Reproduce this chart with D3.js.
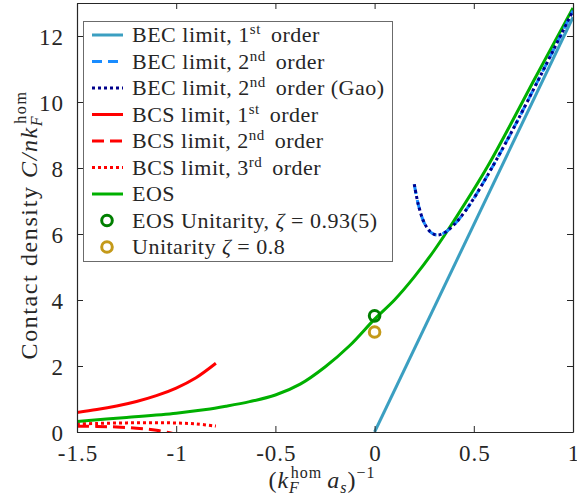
<!DOCTYPE html>
<html>
<head>
<meta charset="utf-8">
<script src="https://cdn.jsdelivr.net/npm/d3@7"></script>
<style>
  body { margin: 0; background: #fff; }
</style>
</head>
<body>
<div class="contact-chart"></div>
<script>
// values
const becX1 = [0, 1];
const bec1 = [0, 12.57];

const becX2 = [0.2, 0.22, 0.25, 0.28, 0.3, 0.32, 0.35, 0.4, 0.45, 0.5, 0.6, 0.7, 0.8, 0.9, 1.0];
const bec2 = [7.51, 6.9, 6.34, 6.07, 5.99, 5.97, 6.03, 6.28, 6.64, 7.08, 8.1, 9.2, 10.37, 11.56, 12.77];
const becGao = [7.51, 6.9, 6.34, 6.07, 5.99, 5.97, 6.03, 6.28, 6.64, 7.08, 8.1, 9.2, 10.37, 11.56, 12.77];

const bcsX = [-1.5, -1.4, -1.3, -1.2, -1.1, -1.0, -0.9, -0.8];
const bcs1 = [0.593, 0.68, 0.789, 0.926, 1.102, 1.333, 1.646, 2.083];
const bcs2 = [0.178, 0.17, 0.152, 0.116, 0.05, -0.067, null, null];
const bcs3 = [0.245, 0.259, 0.271, 0.28, 0.282, 0.273, 0.244, 0.179];

const eosX = [-1.5, -1.25, -1.0, -0.85, -0.75, -0.63, -0.5, -0.375, -0.25, -0.125, 0, 0.1, 0.2, 0.3, 0.4, 0.57, 0.82, 1.0];
const eos = [0.32, 0.44, 0.57, 0.68, 0.78, 0.92, 1.12, 1.45, 1.97, 2.62, 3.42, 4.0, 4.7, 5.5, 6.4, 8.05, 10.85, 12.85];

const unitX = [0, 0];
const unitY = [3.52, 3.03];

const xTicks = [-1.5, -1, -0.5, 0, 0.5, 1];
const yTicks = [0, 2, 4, 6, 8, 10, 12];

const FONT = '"Liberation Serif", serif';
const INK = "#262626";

const outerWidth = 577, outerHeight = 502;
const margin = {left: 77, right: 4, top: 3, bottom: 70};

const svg = d3.select(".contact-chart").append("svg")
  .attr("width", outerWidth)
  .attr("height", outerHeight);

const xScale = d3.scaleLinear().domain([-1.5, 1]).range([margin.left, outerWidth - margin.right]);
const yScale = d3.scaleLinear().domain([0, 13]).range([outerHeight - margin.bottom, margin.top]);

svg.append("clipPath").attr("id", "plot-clip")
  .append("rect")
  .attr("x", margin.left).attr("y", margin.top)
  .attr("width", xScale.range()[1] - margin.left)
  .attr("height", yScale.range()[0] - margin.top);

const plot = svg.append("g").attr("clip-path", "url(#plot-clip)");

const series = [
  {x: becX1, y: bec1, color: "#3b9fc1", dash: null, name: [["BEC limit, 1"], ["st", "sup"], [" order"]]},
  {x: becX2, y: bec2, color: "#1a8cff", dash: "10 6", name: [["BEC limit, 2"], ["nd", "sup"], [" order"]]},
  {x: becX2, y: becGao, color: "#00008b", dash: "3 3", name: [["BEC limit, 2"], ["nd", "sup"], [" order (Gao)"]]},
  {x: bcsX, y: bcs1, color: "#ff0000", dash: null, name: [["BCS limit, 1"], ["st", "sup"], [" order"]]},
  {x: bcsX, y: bcs2, color: "#ff0000", dash: "12 6", name: [["BCS limit, 2"], ["nd", "sup"], [" order"]]},
  {x: bcsX, y: bcs3, color: "#ff0000", dash: "3 3", name: [["BCS limit, 3"], ["rd", "sup"], [" order"]]},
  {x: eosX, y: eos, color: "#00b000", dash: null, name: [["EOS"]]}
];

const line = d3.line()
  .defined(d => d[1] != null)
  .x(d => xScale(d[0]))
  .y(d => yScale(d[1]))
  .curve(d3.curveCatmullRom);

// draw order: red first, then green, then blue ones
[3, 4, 5, 6, 0, 1, 2].forEach(i => {
  const s = series[i];
  plot.append("path")
    .datum(s.x.map((v, j) => [v, s.y[j]]))
    .attr("d", line)
    .attr("fill", "none")
    .attr("stroke", s.color)
    .attr("stroke-width", 3)
    .attr("stroke-dasharray", s.dash);
});

const markers = [
  {color: "#007f00", name: [["EOS Unitarity, "], ["ζ", "it"], [" = 0.93(5)"]]},
  {color: "#c49a1a", name: [["Unitarity "], ["ζ", "it"], [" = 0.8"]]}
];

plot.selectAll("circle.unit")
  .data(unitX)
  .enter()
  .append("circle")
  .attr("class", "unit")
  .attr("cx", d => xScale(d))
  .attr("cy", (d, i) => yScale(unitY[i]))
  .attr("r", 5.3)
  .attr("fill", "none")
  .attr("stroke", (d, i) => markers[i].color)
  .attr("stroke-width", 3);

// axes box
const x0 = xScale.range()[0], x1 = xScale.range()[1];
const y0 = yScale.range()[0], y1 = yScale.range()[1];

const xAxis = d3.axisBottom(xScale).tickValues(xTicks).tickSizeInner(-6).tickSizeOuter(0)
  .tickPadding(12).tickFormat(d => String(d));
const yAxis = d3.axisLeft(yScale).tickValues(yTicks).tickSizeInner(-6).tickSizeOuter(0)
  .tickPadding(13);

const gx = svg.append("g").attr("transform", `translate(0, ${y0})`).call(xAxis);
const gy = svg.append("g").attr("transform", `translate(${x0}, 0)`).call(yAxis);
const gxt = svg.append("g").attr("transform", `translate(0, ${y1})`)
  .call(d3.axisTop(xScale).tickValues(xTicks).tickSizeInner(-6).tickSizeOuter(0).tickFormat(""));
const gyr = svg.append("g").attr("transform", `translate(${x1}, 0)`)
  .call(d3.axisRight(yScale).tickValues(yTicks).tickSizeInner(-6).tickSizeOuter(0).tickFormat(""));

[gx, gy, gxt, gyr].forEach(g => {
  g.attr("font-family", FONT).attr("font-size", 23);
  g.select(".domain").attr("stroke", INK).attr("stroke-width", 1.2);
  g.selectAll(".tick line").attr("stroke", INK).attr("stroke-width", 1);
  g.selectAll(".tick text")
    .style("font-family", FONT)
    .style("font-size", "23px")
    .style("letter-spacing", "1px")
    .attr("fill", INK);
});
gx.selectAll(".tick text").attr("dy", "0.75em").attr("dx", "0.5px");
gy.selectAll(".tick text").attr("dy", "0.35em");

// axis labels
const xl = svg.append("text")
  .attr("x", 322).attr("y", 488)
  .attr("text-anchor", "middle")
  .attr("fill", INK)
  .style("font-family", FONT)
  .style("font-size", "24px")
  .style("letter-spacing", "1px");
xl.append("tspan").text("(");
xl.append("tspan").style("font-style", "italic").text("k");
xl.append("tspan").style("font-style", "italic").style("font-size", "16px").attr("dy", 5).text("F");
xl.append("tspan").style("font-size", "16px").attr("dx", -9).attr("dy", -15).text("hom");
xl.append("tspan").attr("dx", 5).attr("dy", 10).style("font-style", "italic").text("a");
xl.append("tspan").style("font-style", "italic").style("font-size", "16px").attr("dy", 5).text("s");
xl.append("tspan").attr("dy", -5).text(")");
xl.append("tspan").style("font-size", "16px").attr("dy", -10).text("−1");

const yl = svg.append("text")
  .attr("transform", "translate(37, 225) rotate(-90)")
  .attr("text-anchor", "middle")
  .attr("fill", INK)
  .style("font-family", FONT)
  .style("font-size", "24px")
  .style("letter-spacing", "1.6px");
yl.append("tspan").text("Contact density ");
yl.append("tspan").style("font-style", "italic").text("C/nk");
yl.append("tspan").style("font-style", "italic").style("font-size", "16px").attr("dy", 5).text("F");
yl.append("tspan").style("font-size", "16px").attr("dx", -9).attr("dy", -16).text("hom");

// legend
const legend = svg.append("g");
const rowY = d3.range(9).map(i => 35 + i * 26.5);
legend.append("rect")
  .attr("x", 83.5).attr("y", 21.5)
  .attr("width", 309).attr("height", 240)
  .attr("fill", "#fff")
  .attr("stroke", "#6b6b6b")
  .attr("stroke-width", 1);

function addLabel(y, parts) {
  const t = legend.append("text")
    .attr("x", 132).attr("y", y + 7)
    .attr("fill", INK)
    .style("font-family", FONT)
    .style("font-size", "22px")
    .style("letter-spacing", "0.5px");
  let shift = 0;
  parts.forEach(p => {
    const ts = t.append("tspan").text(p[0]);
    if (p[1] === "sup") {
      ts.style("font-size", "15px").attr("dy", -8);
      shift = 8;
    } else {
      if (shift) { ts.attr("dy", shift).attr("dx", 4); shift = 0; }
      if (p[1] === "it") ts.style("font-style", "italic");
    }
  });
}

series.forEach((s, i) => {
  legend.append("line")
    .attr("x1", 92).attr("x2", 123)
    .attr("y1", rowY[i]).attr("y2", rowY[i])
    .attr("stroke", s.color)
    .attr("stroke-width", 3)
    .attr("stroke-dasharray", s.dash);
  addLabel(rowY[i], s.name);
});
markers.forEach((m, i) => {
  legend.append("circle")
    .attr("cx", 107).attr("cy", rowY[7 + i])
    .attr("r", 5.3)
    .attr("fill", "none")
    .attr("stroke", m.color)
    .attr("stroke-width", 3);
  addLabel(rowY[7 + i], m.name);
});
</script>
</body>
</html>
